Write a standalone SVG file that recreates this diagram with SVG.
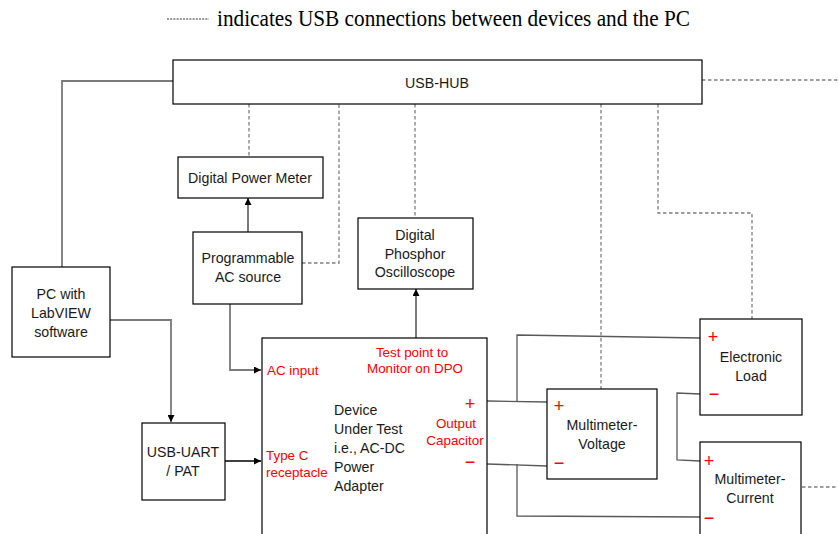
<svg xmlns="http://www.w3.org/2000/svg" width="838" height="534" viewBox="0 0 838 534">
<style>
.box{fill:#fff;stroke:#000;stroke-width:1.2}
.t{font-family:"Liberation Sans",Arial,sans-serif;font-size:14.2px;fill:#1a1a1a;text-anchor:middle}
.tl{text-anchor:start}
.r{fill:#ff0000;font-size:13.4px}
.w{fill:none;stroke:#595959;stroke-width:1.3}
.g{fill:none;stroke:#7a7a7a;stroke-width:1.8}
.d{fill:none;stroke:#7f7f7f;stroke-width:1.3;stroke-dasharray:3.5,2.5}
.pm{font-family:"Liberation Sans",Arial,sans-serif;font-size:18px;fill:#ff0000;text-anchor:middle}
</style>
<defs>
<marker id="ah" viewBox="0 0 10 10" refX="10" refY="5" markerWidth="7" markerHeight="7" markerUnits="userSpaceOnUse" orient="auto">
<path d="M0,0 L10,5 L0,10 z" fill="#000"/>
</marker>
</defs>
<rect width="838" height="534" fill="#fff"/>
<g id="legend">
<line x1="167" y1="19" x2="209" y2="19" stroke="#333" stroke-width="1" stroke-dasharray="2,1.2"/>
<text x="217" y="26" font-family="Liberation Serif,'Times New Roman',serif" font-size="23" fill="#000" textLength="473" lengthAdjust="spacingAndGlyphs">indicates USB connections between devices and the PC</text>
</g>
<g id="connectors">
<polyline class="g" points="173,81 62,81 62,267"/>
<polyline class="g" points="110,320 171,320 171,422" marker-end="url(#ah)"/>
<line class="w" x1="225" y1="461" x2="261" y2="461" marker-end="url(#ah)" style="stroke:#000"/>
<polyline class="g" points="230,304 230,370 261,370" marker-end="url(#ah)"/>
<line class="w" x1="248" y1="232" x2="248" y2="198" marker-end="url(#ah)" style="stroke:#333"/>
<line class="w" x1="416" y1="338" x2="416" y2="289" marker-end="url(#ah)" style="stroke:#333"/>
<line class="w" x1="487" y1="401" x2="547" y2="402"/>
<polyline class="w" points="517,401 517,335 700,338"/>
<line class="w" x1="487" y1="464" x2="547" y2="466"/>
<polyline class="w" points="517,464 517,516 700,517"/>
<polyline class="w" points="700,394 677,393 677,460 700,461"/>
<line class="d" x1="249" y1="104" x2="249" y2="157"/>
<polyline class="d" points="302,263 339,263 339,104"/>
<line class="d" x1="415" y1="104" x2="415" y2="218"/>
<line class="d" x1="601" y1="104" x2="601" y2="389"/>
<polyline class="d" points="658,104 658,213 752,213 752,319"/>
<line class="d" x1="702" y1="80" x2="838" y2="80"/>
<line class="d" x1="802" y1="487" x2="838" y2="487"/>
</g>
<g id="usb-hub">
<rect class="box" x="173" y="60" width="529" height="44"/>
<text class="t" x="437" y="88">USB-HUB</text>
</g>
<g id="pc">
<rect class="box" x="12" y="267" width="98" height="90"/>
<text class="t" x="61" y="299">PC with</text>
<text class="t" x="61" y="318">LabVIEW</text>
<text class="t" x="61" y="337">software</text>
</g>
<g id="power-meter">
<rect class="box" x="178" y="157" width="145" height="41"/>
<text class="t" x="250" y="183">Digital Power Meter</text>
</g>
<g id="ac-source">
<rect class="box" x="193" y="232" width="109" height="72"/>
<text class="t" x="248" y="263">Programmable</text>
<text class="t" x="248" y="282">AC source</text>
</g>
<g id="dpo">
<rect class="box" x="358" y="218" width="115" height="71"/>
<text class="t" x="415" y="240">Digital</text>
<text class="t" x="415" y="259">Phosphor</text>
<text class="t" x="415" y="277">Oscilloscope</text>
</g>
<g id="usb-uart">
<rect class="box" x="142" y="423" width="83" height="77"/>
<text class="t" x="183" y="457">USB-UART</text>
<text class="t" x="183" y="476">/ PAT</text>
</g>
<g id="dut">
<rect class="box" x="262" y="338" width="225" height="210"/>
<text class="t tl r" x="267" y="375">AC input</text>
<text class="t tl r" x="266" y="460">Type C</text>
<text class="t tl r" x="266" y="477">receptacle</text>
<text class="t r" x="412" y="357">Test point to</text>
<text class="t r" x="415" y="373">Monitor on DPO</text>
<text class="t tl" x="334" y="415">Device</text>
<text class="t tl" x="334" y="434">Under Test</text>
<text class="t tl" x="334" y="453">i.e., AC-DC</text>
<text class="t tl" x="334" y="472">Power</text>
<text class="t tl" x="334" y="491">Adapter</text>
<text class="pm" x="470" y="410">+</text>
<text class="t r" x="456" y="428">Output</text>
<text class="t r" x="455" y="445">Capacitor</text>
<text class="pm" x="470" y="468">−</text>
</g>
<g id="multimeter-voltage">
<rect class="box" x="547" y="389" width="110" height="90"/>
<text class="pm" x="559" y="412">+</text>
<text class="pm" x="559" y="469">−</text>
<text class="t" x="602" y="430">Multimeter-</text>
<text class="t" x="602" y="449">Voltage</text>
</g>
<g id="electronic-load">
<rect class="box" x="700" y="319" width="102" height="96"/>
<text class="pm" x="713" y="343">+</text>
<text class="pm" x="714" y="400">−</text>
<text class="t" x="751" y="362">Electronic</text>
<text class="t" x="751" y="381">Load</text>
</g>
<g id="multimeter-current">
<rect class="box" x="700" y="442" width="101" height="106"/>
<text class="pm" x="709" y="467">+</text>
<text class="pm" x="709" y="524">−</text>
<text class="t" x="750" y="484">Multimeter-</text>
<text class="t" x="750" y="503">Current</text>
</g>
</svg>
